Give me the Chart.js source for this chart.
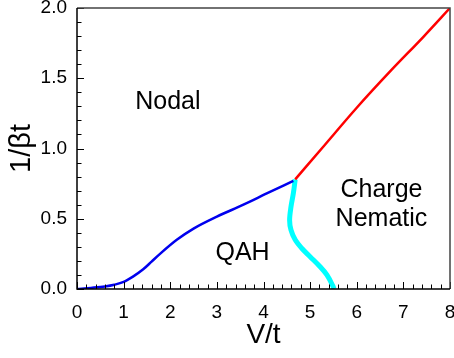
<!DOCTYPE html>
<html>
<head>
<meta charset="utf-8">
<script src="https://cdn.jsdelivr.net/npm/chart.js@4.4.1/dist/chart.umd.min.js"></script>
<style>
  html, body { margin: 0; padding: 0; background: #fff; }
  #wrap { width: 454px; height: 358px; }
</style>
</head>
<body>
<div id="wrap"><canvas id="phaseChart"></canvas></div>
<script>
// Phase boundaries: [V/t, 1/(beta t)]
const qahBoundary = [
    [0, 0], [0.3, 0.008], [0.6, 0.018], [0.8, 0.03], [1.0, 0.05], [1.2, 0.088],
    [1.42, 0.14], [1.6, 0.195], [1.78, 0.25], [2.14, 0.35], [2.5, 0.43], [3.0, 0.515],
    [3.57, 0.6], [4.07, 0.68], [4.64, 0.77]
];
const nematicUpper = [
    [4.68, 0.78], [5.3, 1.02], [6.0, 1.29], [6.72, 1.55], [7.43, 1.795], [8.0, 2.0]
];
const nematicLower = [
    [4.68, 0.78], [4.64, 0.68], [4.59, 0.586], [4.56, 0.49], [4.59, 0.42], [4.68, 0.35],
    [4.82, 0.29], [5.0, 0.23], [5.21, 0.16], [5.36, 0.10], [5.49, 0.02], [5.51, 0]
];

const xTicks = [0, 1, 2, 3, 4, 5, 6, 7, 8];
const yTicks = [0, 0.5, 1.0, 1.5, 2.0];

const regionLabels = [
    { text: 'Nodal', x: 1.95, y: 1.33 },
    { text: 'QAH', x: 3.55, y: 0.256 },
    { text: 'Charge', x: 6.53, y: 0.705 },
    { text: 'Nematic', x: 6.53, y: 0.5 }
];

const FONT = '"Liberation Sans", Arial, Helvetica, sans-serif';

function toPoints(arr) {
    return arr.map(p => ({ x: p[0], y: p[1] }));
}

// inward ticks, frame and region names
const framePlugin = {
    id: 'frame',
    afterDraw(chart) {
        const ctx = chart.ctx;
        const area = chart.chartArea;
        const xs = chart.scales.x;
        const ys = chart.scales.y;
        ctx.save();

        ctx.strokeStyle = '#000';
        ctx.lineWidth = 1;
        for (let i = 0; i <= 40; i++) {
            const v = i * 0.2;
            const px = Math.round(xs.getPixelForValue(v)) + 0.5;
            const len = (i % 5 === 0) ? 7 : 4.5;
            ctx.beginPath();
            ctx.moveTo(px, area.bottom);
            ctx.lineTo(px, area.bottom - len);
            ctx.stroke();
        }
        for (let i = 0; i <= 20; i++) {
            const v = i * 0.1;
            const py = Math.round(ys.getPixelForValue(v)) + 0.5;
            const len = (i % 5 === 0) ? 7 : 4.5;
            ctx.beginPath();
            ctx.moveTo(area.left, py);
            ctx.lineTo(area.left + len, py);
            ctx.stroke();
        }

        ctx.lineWidth = 1.5;
        ctx.strokeStyle = '#444';
        ctx.beginPath();
        ctx.moveTo(area.left, area.top);
        ctx.lineTo(area.right, area.top);
        ctx.lineTo(area.right, area.bottom);
        ctx.stroke();
        ctx.strokeStyle = '#000';
        ctx.beginPath();
        ctx.moveTo(area.left, area.top);
        ctx.lineTo(area.left, area.bottom);
        ctx.lineTo(area.right, area.bottom);
        ctx.stroke();

        ctx.fillStyle = '#000';
        ctx.font = '25px ' + FONT;
        ctx.textAlign = 'center';
        ctx.textBaseline = 'middle';
        regionLabels.forEach(l => {
            ctx.fillText(l.text, xs.getPixelForValue(l.x), ys.getPixelForValue(l.y));
        });
        ctx.restore();
    }
};

const ctx = document.getElementById('phaseChart').getContext('2d');
new Chart(ctx, {
    type: 'scatter',
    data: {
        datasets: [
            {
                data: toPoints(qahBoundary),
                showLine: true,
                borderColor: '#0000ee',
                borderWidth: 2.5,
                pointRadius: 0,
                cubicInterpolationMode: 'monotone'
            },
            {
                data: toPoints(nematicUpper),
                showLine: true,
                borderColor: '#ff0000',
                borderWidth: 2.5,
                pointRadius: 0,
                cubicInterpolationMode: 'monotone'
            },
            {
                data: toPoints(nematicLower),
                showLine: true,
                borderColor: '#00ffff',
                borderWidth: 5,
                pointRadius: 0,
                tension: 0.35
            }
        ]
    },
    options: {
        responsive: true,
        maintainAspectRatio: false,
        animation: false,
        layout: { padding: { top: 8, right: 4, left: 0, bottom: 0 } },
        plugins: {
            legend: { display: false },
            tooltip: { enabled: false }
        },
        scales: {
            x: {
                type: 'linear',
                min: 0,
                max: 8,
                afterBuildTicks: scale => { scale.ticks = xTicks.map(v => ({ value: v })); },
                afterFit: scale => { scale.height = 69; scale.paddingLeft = 0; scale.paddingRight = 0; },
                grid: { display: false, drawTicks: false },
                border: { display: false },
                ticks: {
                    color: '#000',
                    padding: 12,
                    maxRotation: 0,
                    font: { family: FONT, size: 19 }
                },
                title: {
                    display: true,
                    text: 'V/t',
                    color: '#000',
                    padding: { top: 0, bottom: 6 },
                    font: { family: FONT, size: 28 }
                }
            },
            y: {
                type: 'linear',
                min: 0,
                max: 2,
                afterBuildTicks: scale => { scale.ticks = yTicks.map(v => ({ value: v })); },
                afterFit: scale => { scale.width = 77; scale.paddingTop = 0; scale.paddingBottom = 0; },
                grid: { display: false, drawTicks: false },
                border: { display: false },
                ticks: {
                    color: '#000',
                    padding: 10,
                    font: { family: FONT, size: 19 },
                    callback: v => v.toFixed(1)
                },
                title: {
                    display: true,
                    text: '1/βt',
                    color: '#000',
                    padding: { top: 5, bottom: 0 },
                    font: { family: FONT, size: 29 }
                }
            }
        }
    },
    plugins: [framePlugin]
});
</script>
</body>
</html>
